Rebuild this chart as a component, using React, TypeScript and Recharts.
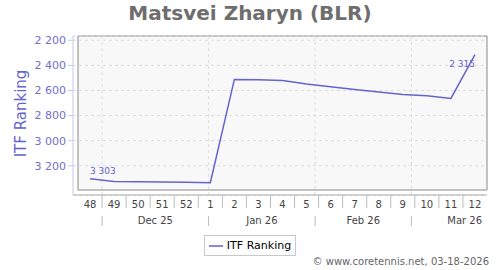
import {
  LineChart,
  Line,
  XAxis,
  YAxis,
  CartesianGrid,
  ReferenceArea,
  ReferenceLine,
  LabelList,
  Legend,
} from 'recharts';

const weeks = ['48', '49', '50', '51', '52', '1', '2', '3', '4', '5', '6', '7', '8', '9', '10', '11', '12'];
const ranking = [3303, 3325, 3328, 3330, 3332, 3335, 2512, 2515, 2520, 2548, 2570, 2592, 2612, 2632, 2643, 2663, 2315];
const monthNames = ['Dec 25', 'Jan 26', 'Feb 26', 'Mar 26'];
const monthStarts = ['2025-12-01', '2026-01-01', '2026-02-01', '2026-03-01'];
const monthLengths = [31, 31, 28, 31];
const yTicks = [2200, 2400, 2600, 2800, 3000, 3200];

const FONT = "'DejaVu Sans', Verdana, sans-serif";
const BLUE = '#6464cc';

// day 0 = monday of week 48 (2025-11-24)
const ORIGIN = Date.parse('2025-11-24');
const dayOf = (s: string) => (Date.parse(s) - ORIGIN) / 86400000;
const DAYS = weeks.length * 7;

const data = weeks.map((w, i) => ({ week: w, day: i * 7 + 3.5, rank: ranking[i] }));

const startDays = monthStarts.map(dayOf);
const centerDays = startDays.map((d, i) => d + monthLengths[i] / 2);
const weekCenters = weeks.map((_, i) => i * 7 + 3.5);
const weekBounds = weeks.slice(1).map((_, i) => (i + 1) * 7);
const xTicks = Array.from(new Set([...weekCenters, ...weekBounds, ...startDays, ...centerDays])).sort((a, b) => a - b);

const fmt = (v: number) => {
  const s = String(v);
  return s.length > 3 ? s.slice(0, -3) + ' ' + s.slice(-3) : s;
};

// one tick component draws both rows: week numbers and months
const AxisTick = (props: any) => {
  const { x, y, payload } = props;
  const v = payload.value;
  return (
    <g>
      {weekBounds.includes(v) && <line x1={x} x2={x} y1={y} y2={y + 13} stroke="#bbbbbb" />}
      {startDays.includes(v) && <line x1={x} x2={x} y1={y + 21} y2={y + 31} stroke="#bbbbbb" />}
      {weekCenters.includes(v) && (
        <text x={x} y={y + 12.5} textAnchor="middle" fontSize={10} fill="#444" fontFamily={FONT}>
          {weeks[weekCenters.indexOf(v)]}
        </text>
      )}
      {centerDays.includes(v) && (
        <text x={x} y={y + 28.5} textAnchor="middle" fontSize={10} fill="#444" fontFamily={FONT}>
          {monthNames[centerDays.indexOf(v)]}
        </text>
      )}
    </g>
  );
};

const EndLabel = (props: any) => {
  const { x, y, value, index } = props;
  if (index === 0) {
    return (
      <text x={x} y={y - 5} fontSize={9} fill={BLUE} fontFamily={FONT}>
        {fmt(value)}
      </text>
    );
  }
  if (index === ranking.length - 1) {
    return (
      <text x={x} y={y + 12} textAnchor="end" fontSize={9} fill={BLUE} fontFamily={FONT}>
        {fmt(value)}
      </text>
    );
  }
  return null;
};

const LegendBox = () => (
  <div
    style={{
      display: 'inline-block',
      border: '1px solid #c8c8c8',
      padding: '2px 4px 2px 3px',
      fontFamily: FONT,
      fontSize: 11,
      lineHeight: '15px',
      color: '#000',
      background: '#fff',
    }}
  >
    <svg width={16} height={10} style={{ verticalAlign: 'middle', marginRight: 3 }}>
      <line x1={1} x2={15} y1={5} y2={5} stroke={BLUE} strokeWidth={1.5} />
    </svg>
    ITF Ranking
  </div>
);

export default function App() {
  return (
    <div style={{ position: 'absolute', left: 0, top: 0, width: 500, height: 270, background: '#fff' }}>
      <div
        style={{
          position: 'absolute',
          top: 1,
          left: 0,
          width: 500,
          textAlign: 'center',
          fontFamily: FONT,
          fontWeight: 'bold',
          fontSize: 20,
          lineHeight: '24px',
          color: '#6e6e6e',
        }}
      >
        Matsvei Zharyn (BLR)
      </div>
      <LineChart width={500} height={270} data={data} margin={{ top: 36, right: 13, left: 0, bottom: 40 }}>
        <ReferenceArea
          x1={0}
          x2={DAYS}
          y1={2166}
          y2={3393}
          fill="#f8f8f8"
          fillOpacity={1}
          stroke="#888888"
          ifOverflow="visible"
          zIndex={-200}
        />
        <CartesianGrid vertical={false} stroke="#dddddd" strokeDasharray="3 3" />
        {startDays.map((d) => (
          <ReferenceLine key={d} x={d} stroke="#dddddd" strokeDasharray="3 3" />
        ))}
        <XAxis
          dataKey="day"
          type="number"
          domain={[0, DAYS]}
          allowDataOverflow
          ticks={xTicks}
          interval={0}
          tick={<AxisTick />}
          tickSize={0}
          tickMargin={0}
          tickLine={false}
          height={35}
          padding={{ left: 5, right: 0 }}
          axisLine={{ stroke: '#aaaaaa' }}
        />
        <YAxis
          width={73}
          reversed
          domain={[2166, 3393]}
          allowDataOverflow
          ticks={yTicks}
          interval={0}
          tickFormatter={fmt}
          tick={{ fill: '#7070cc', fontSize: 11, fontFamily: FONT }}
          tickSize={5}
          tickMargin={2}
          tickLine={{ stroke: '#c8c8e8' }}
          axisLine={{ stroke: '#c8c8e8' }}
          padding={{ top: 0, bottom: 5 }}
          label={{
            value: 'ITF Ranking',
            angle: -90,
            position: 'insideLeft',
            offset: 21,
            dy: -2,
            style: { textAnchor: 'middle', fill: BLUE, fontSize: 15, fontFamily: FONT },
          }}
        />
        <Legend
          layout="horizontal"
          verticalAlign="middle"
          align="center"
          content={() => <LegendBox />}
          wrapperStyle={{ top: 235, left: 0, width: 500, bottom: 'auto', textAlign: 'center' }}
        />
        <Line
          type="linear"
          dataKey="rank"
          name="ITF Ranking"
          stroke={BLUE}
          strokeWidth={1.5}
          dot={false}
          activeDot={false}
          isAnimationActive={false}
        >
          <LabelList dataKey="rank" content={<EndLabel />} />
        </Line>
      </LineChart>
      <div
        style={{
          position: 'absolute',
          top: 256,
          right: 11,
          fontFamily: FONT,
          fontSize: 10,
          lineHeight: '12px',
          color: '#666',
        }}
      >
        © www.coretennis.net, 03-18-2026
      </div>
    </div>
  );
}
